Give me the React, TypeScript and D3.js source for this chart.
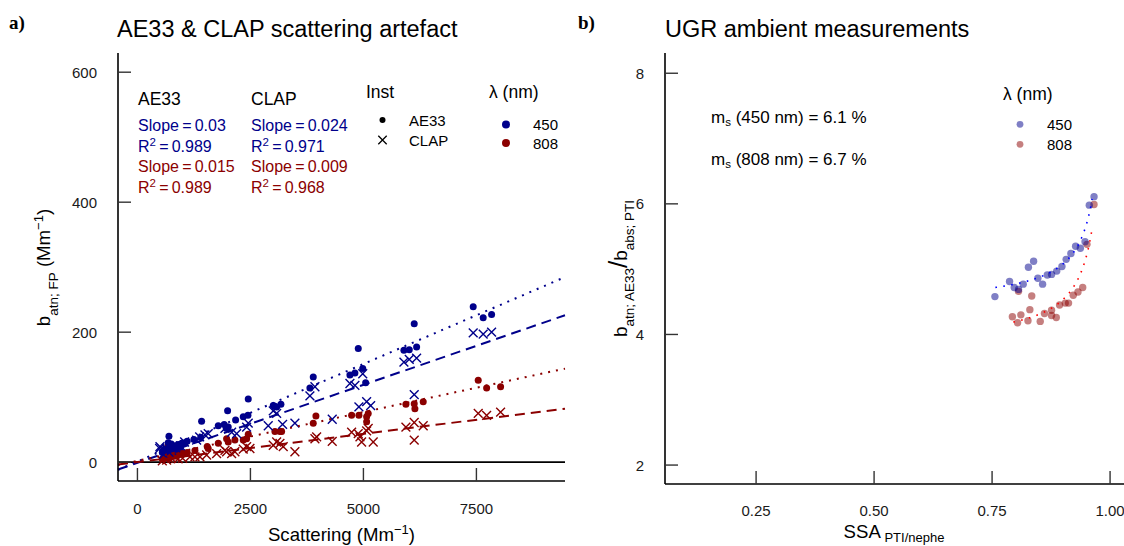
import React from "react";
import * as d3 from "d3";

// ---------- Panel a data: [scattering (Mm-1), b_atn;FP (Mm-1)] ----------
const ae33_450: [number, number][] = [
  [7429, 239], [7650, 222], [7836, 227], [6124, 213], [5896, 172], [6014, 173], [6177, 177],
  [4886, 175], [4701, 134], [4812, 137], [4985, 144], [5049, 122], [3890, 131], [3816, 114],
  [3005, 87], [3080, 85], [3175, 89], [3035, 86], [2452, 97], [1995, 79], [2172, 65], [2341, 70],
  [2445, 72], [1788, 56], [1920, 58], [2009, 54], [1965, 52], [1420, 63], [697, 40], [680, 30],
  [750, 28], [820, 25], [900, 27], [980, 29], [1050, 30], [600, 20], [700, 22], [850, 20],
  [950, 23], [550, 15], [1100, 32], [1250, 35], [1400, 38],
];
const clap_450: [number, number][] = [
  [7429, 199], [7650, 197], [7836, 200], [5896, 154], [6014, 158], [6177, 160], [6124, 104],
  [4701, 121], [4812, 118], [4985, 136], [4900, 85], [5071, 93], [5160, 87], [3816, 102],
  [3927, 116], [4310, 66], [3484, 60], [3212, 58], [2894, 56], [3005, 79], [3080, 75],
  [2452, 60], [2416, 54], [1936, 52], [2084, 46], [2195, 44], [1566, 44], [1493, 42],
  [1310, 34], [1376, 39], [1044, 31], [498, 24], [646, 21], [757, 18], [491, 21], [580, 12],
  [700, 15], [850, 22], [950, 25],
];
const ae33_808: [number, number][] = [
  [7540, 126], [7726, 114], [8035, 116], [5940, 89], [6124, 90], [6139, 82], [6323, 93],
  [4739, 72], [4900, 72], [5071, 70], [5106, 75], [5071, 62], [3949, 71], [3890, 60],
  [3042, 47], [3153, 47], [3190, 47], [2452, 43], [2416, 36], [2341, 34], [1973, 36],
  [2009, 31], [2157, 34], [1788, 29], [1544, 24], [1566, 21], [1272, 18], [681, 27], [719, 13],
  [867, 16], [940, 16], [600, 8], [650, 10], [780, 12], [820, 9], [900, 11], [1000, 14],
  [1100, 15], [550, 5], [700, 6],
];
const clap_808: [number, number][] = [
  [7540, 75], [7726, 72], [8035, 77], [5940, 54], [6124, 61], [6323, 56], [6124, 34],
  [4739, 46], [4885, 44], [5071, 48], [5106, 52], [4960, 31], [5217, 31], [4923, 39],
  [3927, 36], [3965, 39], [4310, 32], [3080, 31], [3153, 29], [3226, 24], [3005, 26],
  [3484, 16], [2416, 24], [2489, 21], [2341, 20], [1936, 18], [1973, 16], [2084, 13],
  [2157, 16], [1752, 13], [1383, 8], [1531, 11], [1162, 8], [1272, 8], [646, 3], [681, 6],
  [830, 8], [757, 6], [550, 2], [900, 5], [1000, 6],
];
// linear fits: slope, intercept
const fitSlopes = { ae33_450: 0.030, clap_450: 0.024, ae33_808: 0.015, clap_808: 0.0087 };
const fitIntercepts = { ae33_450: 1, clap_450: -1, ae33_808: 2, clap_808: 0 };

const xTicksA = [0, 2500, 5000, 7500];
const yTicksA = [0, 200, 400, 600];

// ---------- Panel b data: [SSA, b_atn;AE33 / b_abs;PTI] ----------
const ugr_450: [number, number][] = [
  [0.966, 6.11], [0.956, 5.98], [0.947, 5.42], [0.927, 5.35], [0.937, 5.32], [0.917, 5.24],
  [0.907, 5.15], [0.898, 5.04], [0.887, 4.97], [0.876, 4.92], [0.867, 4.91], [0.857, 4.77],
  [0.847, 4.86], [0.838, 5.12], [0.827, 5.03], [0.816, 4.77], [0.797, 4.72], [0.806, 4.69],
  [0.787, 4.81], [0.756, 4.58],
];
const ugr_808: [number, number][] = [
  [0.966, 5.99], [0.951, 5.38], [0.942, 4.72], [0.932, 4.65], [0.922, 4.60], [0.912, 4.48],
  [0.905, 4.48], [0.893, 4.45], [0.886, 4.26], [0.876, 4.29], [0.876, 4.37], [0.861, 4.32],
  [0.852, 4.20], [0.834, 4.59], [0.830, 4.38], [0.826, 4.21], [0.811, 4.30], [0.804, 4.18],
  [0.793, 4.27], [0.806, 4.66],
];
// fit: C0 + ms * SSA/(1-SSA)
const msFit = { w450: 0.061, w808: 0.067 };
const c0Fit = { w450: 4.53, w808: 3.93 };
const ssaRange = { w450: [0.757, 0.962], w808: [0.795, 0.962] };

const xTicksB = [0.25, 0.5, 0.75, 1.0];
const yTicksB = [2, 4, 6, 8];

const BLUE = "#00008B";
const RED = "#8B0000";
const FONT = "'Liberation Sans', Arial, Helvetica, sans-serif";

function Cross({ x, y, s, color, w = 1.4 }: { x: number; y: number; s: number; color: string; w?: number }) {
  return (
    <path
      d={`M${x - s},${y - s}L${x + s},${y + s}M${x - s},${y + s}L${x + s},${y - s}`}
      stroke={color}
      strokeWidth={w}
      fill="none"
    />
  );
}

export default function App() {
  // Panel a scales
  const xA = d3.scaleLinear().domain([-430, 9460]).range([118, 565]);
  const yA = d3.scaleLinear().domain([-29, 628]).range([481, 54]);
  // Panel b scales
  const xB = d3.scaleLinear().domain([0.057, 1.0295]).range([665, 1124]);
  const yB = d3.scaleLinear().domain([1.71, 8.31]).range([484, 53]);

  const [x0, x1] = xA.domain();
  const fitLine = (k: keyof typeof fitSlopes) => {
    const ln = d3.line<number>().x((d) => xA(d)).y((d) => yA(fitSlopes[k] * d + fitIntercepts[k]));
    return ln([x0, x1]) || "";
  };

  const curve = (k: "w450" | "w808") => {
    const [a, b] = ssaRange[k];
    const pts = d3.range(0, 201).map((i) => a + ((b - a) * i) / 200);
    const ln = d3
      .line<number>()
      .x((d) => xB(d))
      .y((d) => yB(c0Fit[k] + (msFit[k] * d) / (1 - d)));
    return ln(pts) || "";
  };

  const tickFont = 15;

  return (
    <svg
      width={1124}
      height={546}
      style={{ position: "absolute", left: 0, top: 0, background: "#fff" }}
      fontFamily={FONT}
    >
      <rect width={1124} height={546} fill="#fff" />
      {/* panel labels */}
      <text x={9} y={29} fontFamily="'Liberation Serif', 'Times New Roman', serif" fontWeight="bold" fontSize={19}>
        a)
      </text>
      <text x={578} y={29} fontFamily="'Liberation Serif', 'Times New Roman', serif" fontWeight="bold" fontSize={19}>
        b)
      </text>

      {/* ================= Panel a ================= */}
      <text x={117} y={37} fontSize={23.5}>AE33 &amp; CLAP scattering artefact</text>

      {/* zero line */}
      <line x1={118} x2={565} y1={yA(0)} y2={yA(0)} stroke="#000" strokeWidth={1.6} />

      {/* points */}
      <g>
        {clap_808.map((d, i) => (
          <Cross key={"c8" + i} x={xA(d[0])} y={yA(d[1])} s={4.4} color={RED} />
        ))}
        {ae33_808.map((d, i) => (
          <circle key={"a8" + i} cx={xA(d[0])} cy={yA(d[1])} r={3.5} fill={RED} />
        ))}
        {clap_450.map((d, i) => (
          <Cross key={"c4" + i} x={xA(d[0])} y={yA(d[1])} s={4.4} color={BLUE} />
        ))}
        {ae33_450.map((d, i) => (
          <circle key={"a4" + i} cx={xA(d[0])} cy={yA(d[1])} r={3.5} fill={BLUE} />
        ))}
      </g>

      {/* fit lines */}
      <path d={fitLine("ae33_450")} stroke={BLUE} strokeWidth={2} fill="none" strokeDasharray="2,6" />
      <path d={fitLine("clap_450")} stroke={BLUE} strokeWidth={2} fill="none" strokeDasharray="10,6" />
      <path d={fitLine("ae33_808")} stroke={RED} strokeWidth={2} fill="none" strokeDasharray="2,6" />
      <path d={fitLine("clap_808")} stroke={RED} strokeWidth={2} fill="none" strokeDasharray="10,6" />

      {/* axes */}
      <line x1={118} x2={118} y1={53} y2={481} stroke="#000" strokeWidth={1.6} />
      <line x1={118} x2={565} y1={481} y2={481} stroke="#000" strokeWidth={1.6} />
      {yTicksA.map((t) => (
        <g key={"ya" + t}>
          <line x1={118} x2={131} y1={yA(t)} y2={yA(t)} stroke="#333" strokeWidth={1.4} />
          <text x={97} y={yA(t)} textAnchor="end" dominantBaseline="central" fontSize={tickFont} fill="#1a1a1a">
            {t}
          </text>
        </g>
      ))}
      {xTicksA.map((t) => (
        <g key={"xa" + t}>
          <line x1={xA(t)} x2={xA(t)} y1={481} y2={468} stroke="#333" strokeWidth={1.4} />
          <text x={xA(t)} y={508} textAnchor="middle" dominantBaseline="central" fontSize={tickFont} fill="#1a1a1a">
            {t}
          </text>
        </g>
      ))}

      {/* axis titles */}
      <text x={341.5} y={541} textAnchor="middle" fontSize={18.6}>
        Scattering (Mm<tspan fontSize={13} dy={-7}>−1</tspan>
        <tspan dy={7}>)</tspan>
      </text>
      <text transform="translate(50,267.5) rotate(-90)" textAnchor="middle" fontSize={18.6}>
        b<tspan fontSize={13.5} dy={8}>atn; FP</tspan>
        <tspan dy={-8}> (Mm</tspan>
        <tspan fontSize={13} dy={-7}>−1</tspan>
        <tspan dy={7}>)</tspan>
      </text>

      {/* stats legend */}
      <g fontSize={16}>
        <text x={138} y={105} fontSize={17.5}>AE33</text>
        <text x={251} y={105} fontSize={17.5}>CLAP</text>
        <text x={138} y={131} fill={BLUE}>Slope{"\u2009=\u2009"}0.03</text>
        <text x={138} y={152} fill={BLUE}>
          R<tspan fontSize={11.5} dy={-6}>2</tspan>
          <tspan dy={6}>{"\u2009=\u2009"}0.989</tspan>
        </text>
        <text x={138} y={172} fill={RED}>Slope{"\u2009=\u2009"}0.015</text>
        <text x={138} y={193} fill={RED}>
          R<tspan fontSize={11.5} dy={-6}>2</tspan>
          <tspan dy={6}>{"\u2009=\u2009"}0.989</tspan>
        </text>
        <text x={251} y={131} fill={BLUE}>Slope{"\u2009=\u2009"}0.024</text>
        <text x={251} y={152} fill={BLUE}>
          R<tspan fontSize={11.5} dy={-6}>2</tspan>
          <tspan dy={6}>{"\u2009=\u2009"}0.971</tspan>
        </text>
        <text x={251} y={172} fill={RED}>Slope{"\u2009=\u2009"}0.009</text>
        <text x={251} y={193} fill={RED}>
          R<tspan fontSize={11.5} dy={-6}>2</tspan>
          <tspan dy={6}>{"\u2009=\u2009"}0.968</tspan>
        </text>
      </g>

      {/* Inst legend */}
      <text x={366} y={98} fontSize={17.5}>Inst</text>
      <circle cx={382.5} cy={120} r={3} fill="#000" />
      <Cross x={382.5} y={140} s={4.2} color="#000" w={1.3} />
      <text x={409} y={120} dominantBaseline="central" fontSize={15}>AE33</text>
      <text x={409} y={140} dominantBaseline="central" fontSize={15}>CLAP</text>

      {/* lambda legend panel a */}
      <text x={489} y={98} fontSize={17.5}>λ (nm)</text>
      <circle cx={506} cy={124.5} r={4} fill={BLUE} />
      <circle cx={506} cy={143} r={4} fill={RED} />
      <text x={533} y={124.5} dominantBaseline="central" fontSize={15}>450</text>
      <text x={533} y={143} dominantBaseline="central" fontSize={15}>808</text>

      {/* ================= Panel b ================= */}
      <text x={665} y={37} fontSize={23.5}>UGR ambient measurements</text>

      {ugr_808.map((d, i) => (
        <circle key={"u8" + i} cx={xB(d[0])} cy={yB(d[1])} r={3.7} fill={RED} fillOpacity={0.5} />
      ))}
      {ugr_450.map((d, i) => (
        <circle key={"u4" + i} cx={xB(d[0])} cy={yB(d[1])} r={3.7} fill={BLUE} fillOpacity={0.5} />
      ))}
      <path d={curve("w450")} stroke="#0000FF" strokeWidth={1.6} fill="none" strokeDasharray="1.6,6.4" />
      <path d={curve("w808")} stroke="#FF0000" strokeWidth={1.6} fill="none" strokeDasharray="1.6,6.4" />

      <line x1={665} x2={665} y1={53} y2={484} stroke="#000" strokeWidth={1.6} />
      <line x1={665} x2={1124} y1={484} y2={484} stroke="#000" strokeWidth={1.6} />
      {yTicksB.map((t) => (
        <g key={"yb" + t}>
          <line x1={665} x2={678} y1={yB(t)} y2={yB(t)} stroke="#333" strokeWidth={1.4} />
          <text x={644} y={yB(t)} textAnchor="end" dominantBaseline="central" fontSize={tickFont} fill="#1a1a1a">
            {t}
          </text>
        </g>
      ))}
      {xTicksB.map((t) => (
        <g key={"xb" + t}>
          <line x1={xB(t)} x2={xB(t)} y1={484} y2={471} stroke="#333" strokeWidth={1.4} />
          <text x={xB(t)} y={510} textAnchor="middle" dominantBaseline="central" fontSize={tickFont} fill="#1a1a1a">
            {d3.format(".2f")(t)}
          </text>
        </g>
      ))}

      <text x={894} y={538} textAnchor="middle" fontSize={18.6}>
        SSA<tspan fontSize={13} dy={3.5}>{" PTI/nephe"}</tspan>
      </text>
      <text transform="translate(627,268.5) rotate(-90)" textAnchor="middle" fontSize={19}>
        b<tspan fontSize={13.5} dy={7}>atn; AE33</tspan>
        <tspan dy={-7} fontSize={26}>/</tspan>
        <tspan>b</tspan>
        <tspan fontSize={13.5} dy={7}>abs; PTI</tspan>
      </text>

      {/* ms annotations */}
      <text x={711} y={123} fontSize={17}>
        m<tspan fontSize={11.5} dy={3}>s</tspan>
        <tspan dy={-3}> (450 nm) = 6.1 %</tspan>
      </text>
      <text x={711} y={165} fontSize={17}>
        m<tspan fontSize={11.5} dy={3}>s</tspan>
        <tspan dy={-3}> (808 nm) = 6.7 %</tspan>
      </text>

      {/* lambda legend panel b */}
      <text x={1003} y={100} fontSize={17.5}>λ (nm)</text>
      <circle cx={1020} cy={124.3} r={3.4} fill={BLUE} fillOpacity={0.5} />
      <circle cx={1020} cy={144.3} r={3.4} fill={RED} fillOpacity={0.5} />
      <text x={1047} y={124.3} dominantBaseline="central" fontSize={15}>450</text>
      <text x={1047} y={144.3} dominantBaseline="central" fontSize={15}>808</text>
    </svg>
  );
}
